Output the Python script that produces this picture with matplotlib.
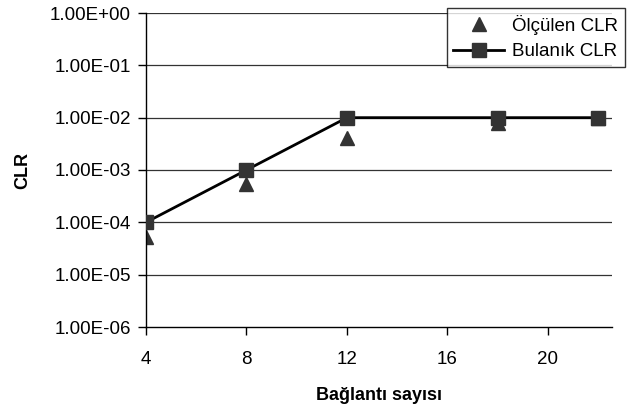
import matplotlib
matplotlib.use("Agg")
import matplotlib.pyplot as plt

plt.rcParams['font.family'] = ['Liberation Sans', 'DejaVu Sans']

baglanti = [4, 8, 12, 18, 22]
olculen_clr = [5.3e-5, 5.4e-4, 4.0e-3, 8.0e-3, 1.0e-2]
bulanik_clr = [1e-4, 1e-3, 1e-2, 1e-2, 1e-2]
y_ticks = [1e-6, 1e-5, 1e-4, 1e-3, 1e-2, 1e-1, 1e0]
y_labels = ["1.00E-06", "1.00E-05", "1.00E-04", "1.00E-03", "1.00E-02", "1.00E-01", "1.00E+00"]
x_ticks = [4, 8, 12, 16, 20]

fig = plt.figure(figsize=(6.37, 4.12), dpi=100)
ax = fig.add_axes([146/637, 1 - 327/412, (612-146)/637, (327-13)/412])

ax.set_yscale('log')
ax.set_ylim(1e-6, 1)
ax.set_xlim(4, 22.55)

for t in y_ticks[1:]:
    ax.axhline(t, color='#333333', lw=0.9, zorder=1)

ax.plot(baglanti, bulanik_clr, color='black', lw=2, marker='s', markersize=9.5,
        markerfacecolor='#333333', markeredgecolor='#333333', label='Bulanık CLR', zorder=3)
ax.plot(baglanti, olculen_clr, ls='none', marker='^', markersize=10,
        color='#333333', label='Ölçülen CLR', zorder=2)

ax.set_yticks(y_ticks)
ax.set_yticklabels(y_labels)
ax.minorticks_off()
ax.set_xticks(x_ticks)
ax.tick_params(axis='both', labelsize=13.5, length=6, width=1, color='black')
ax.tick_params(axis='x', pad=11)
ax.tick_params(axis='y', pad=5)

for s in ['top', 'right']:
    ax.spines[s].set_visible(False)
for s in ['left', 'bottom']:
    ax.spines[s].set_color('black')
    ax.spines[s].set_linewidth(1)

ax.set_xlabel('Bağlantı sayısı', fontsize=13, fontweight='bold', labelpad=14)
ax.set_ylabel('CLR', fontsize=13, fontweight='bold', labelpad=13)

handles, labels = ax.get_legend_handles_labels()
leg = fig.legend(handles[::-1], labels[::-1], loc='upper right',
                 bbox_to_anchor=(625/637, 1 - 8/412), fontsize=13.5,
                 frameon=True, fancybox=False, edgecolor='black',
                 borderpad=0.35, labelspacing=0.45, handlelength=2.7, handletextpad=0.45,
                 borderaxespad=0)
leg.get_frame().set_linewidth(1)

fig.savefig('out.png', dpi=100)
